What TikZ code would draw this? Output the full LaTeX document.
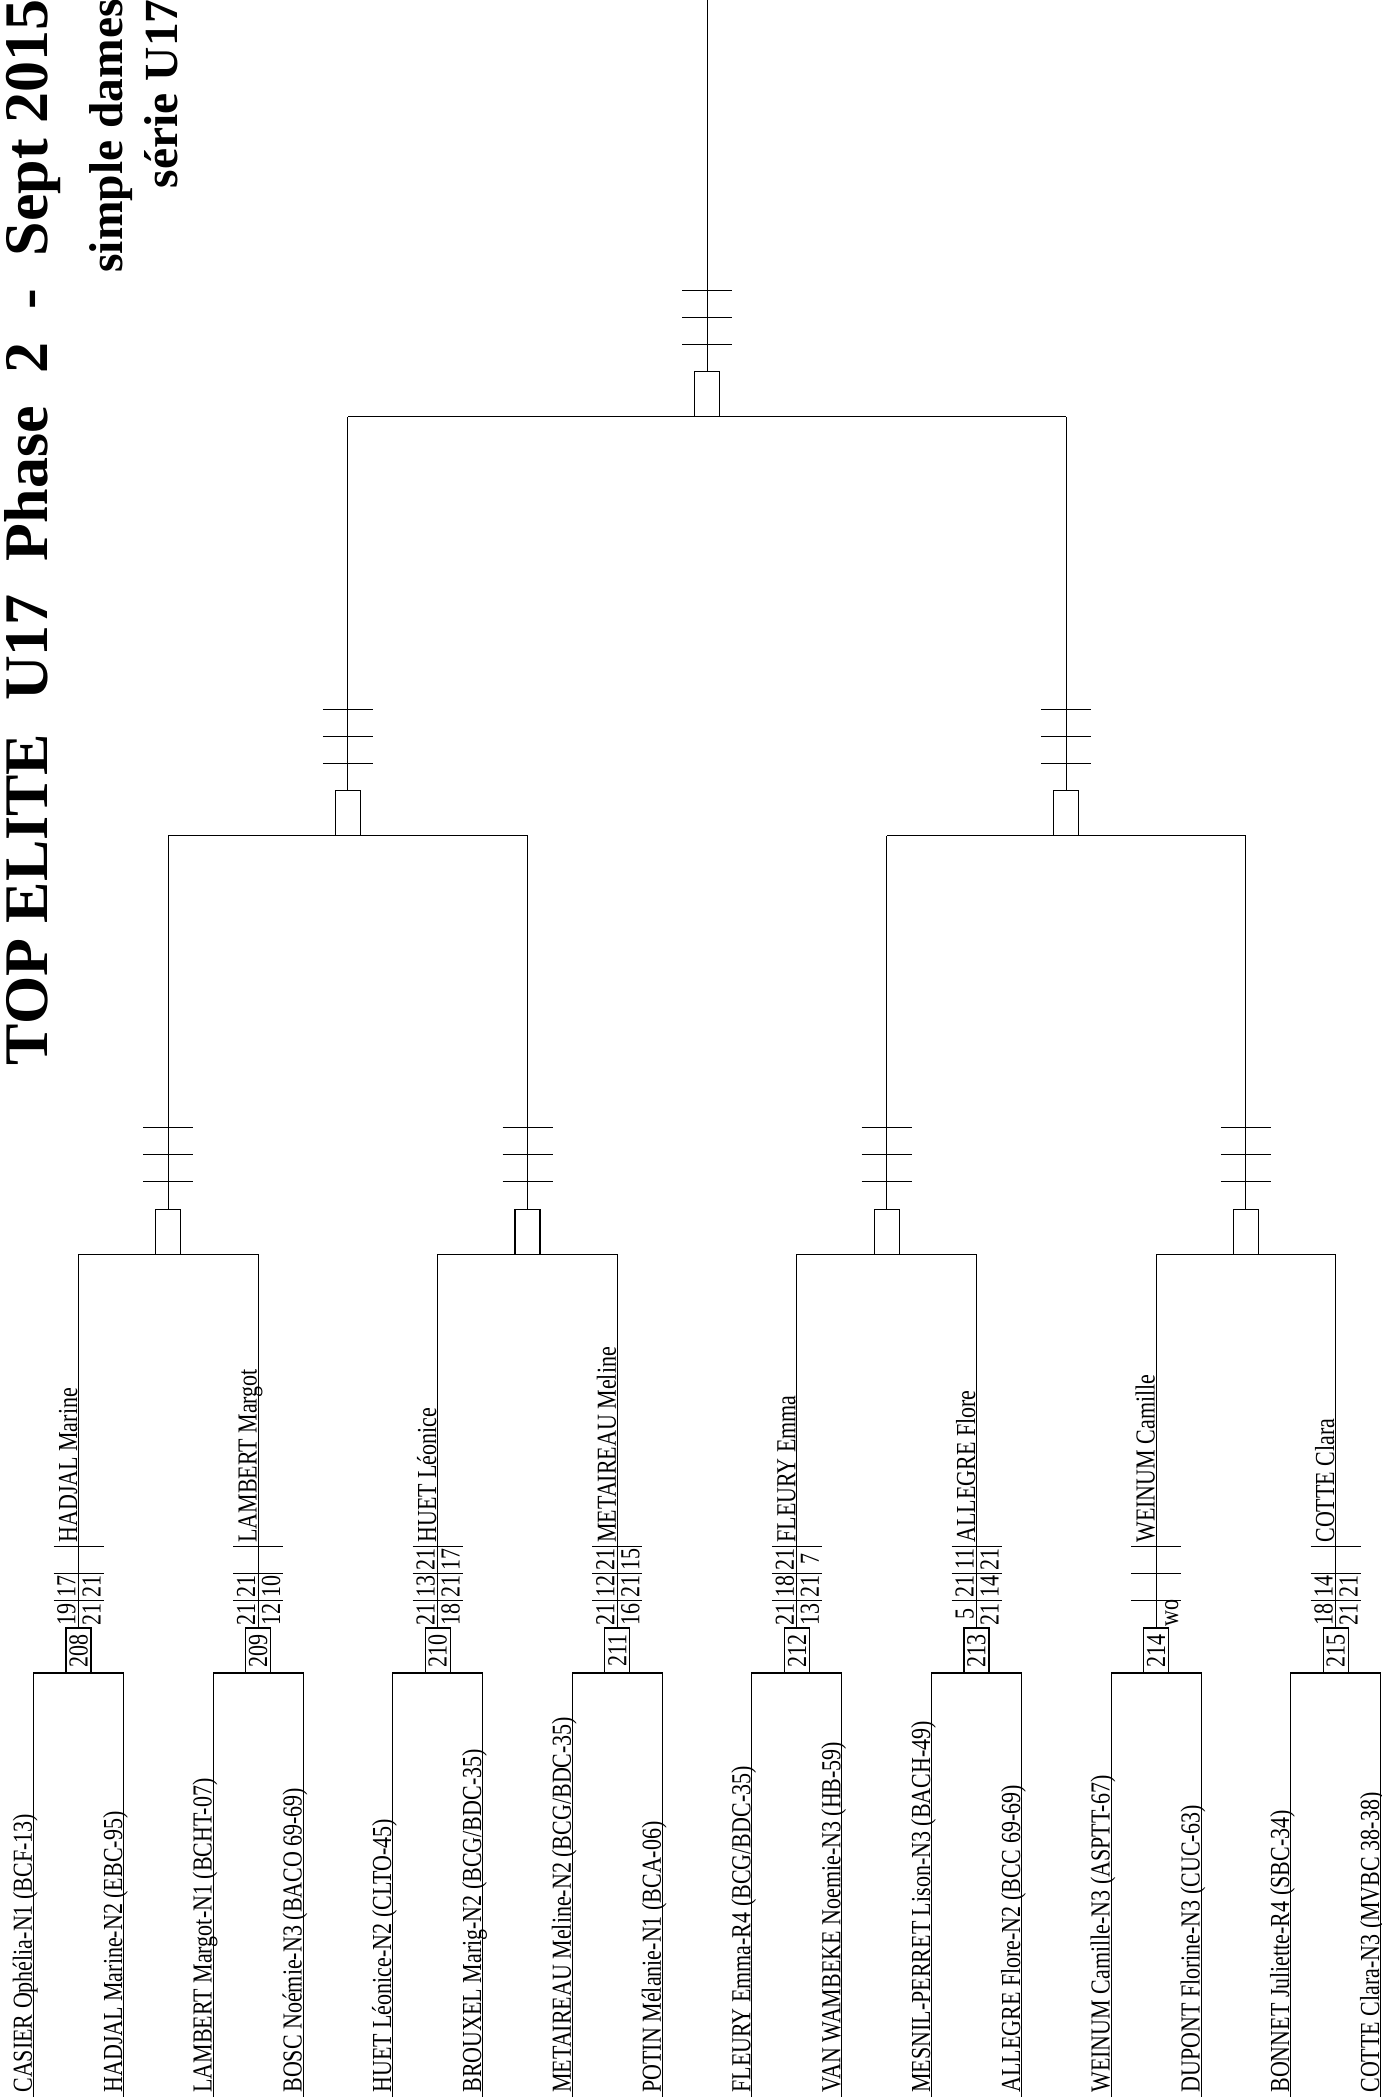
\documentclass[tikz,border=0pt]{standalone}
\usepackage{fontspec}
\setmainfont{Liberation Serif}
\newfontfamily\cond[FakeStretch=0.8]{Liberation Serif}
\tikzset{
  ln/.style={line width=0.55pt, draw=black},
  mbox/.style={draw=black, line width=0.55pt, fill=white, rotate=90, minimum width=22.5pt, minimum height=12.5pt, inner sep=0pt,
    font=\cond\fontsize{13.75pt}{16pt}\selectfont},
  txt/.style={rotate=90, inner sep=0pt, font=\cond\fontsize{13.75pt}{16pt}\selectfont},
  ttl/.style={rotate=90, inner sep=0pt, anchor=base east, font=\bfseries\fontsize{31pt}{36pt}\selectfont},
  subt/.style={rotate=90, inner sep=0pt, anchor=base east, font=\bfseries\fontsize{23.75pt}{28pt}\selectfont},
}
% ticks: #1 centre x, #2 box top y
\newcommand\tickset[2]{%
  \foreach \t in {27.5,54.5,81.5} \draw[ln] (#1-25,#2-\t) -- (#1+25,#2-\t);%
}
% first-round match: #1 index, #2 number, #3 player 1, #4 player 2, #5 winner
\newcommand\firstround[5]{%
  \pgfmathsetmacro\cx{78.5+179.6*#1}%
  \pgfmathsetmacro\lx{\cx-45}%
  \pgfmathsetmacro\rx{\cx+45}%
  \coordinate (a#2) at (\lx,2097);
  \coordinate (b#2) at (\rx,2097);
  \coordinate (w#2) at (\cx,1254.3);
  \draw[ln] (a#2) -- (\lx,1673) -- (\rx,1673) -- (b#2);
  \node[mbox] (m#2) at (\cx,1650.5) {#2};
  \draw[ln] (m#2.east) -- (w#2);
  \tickset{\cx}{1628}
  \node[txt, anchor=base west] (pa#2) at (\lx-1.5,2093) {#3};
  \node[txt, anchor=base west] (pb#2) at (\rx-1.5,2093) {#4};
  \node[txt, anchor=base west] (win#2) at (\cx-1.5,1543) {#5};
}
% scores: #1 index, #2 game, #3 left score, #4 right score
\newcommand\scorepair[4]{%
  \pgfmathsetmacro\cx{78.5+179.6*#1}%
  \pgfmathsetmacro\cy{1628-27.5*(#2-0.5)}%
  \node[txt, anchor=base] (sl#1#2) at (\cx-3,\cy) {#3};
  \node[txt, anchor=base] (sr#1#2) at (\cx+22,\cy) {#4};
}
\begin{document}
\begin{tikzpicture}[x=0.5pt,y=-0.5pt]
\useasboundingbox (0,0) rectangle (1382,2100);
\fill[white] (0,0) rectangle (1382,2100);

% titles
\node[ttl] (title) at (47,-1) {TOP ELITE\hspace{0.53em}U17\hspace{0.53em}Phase\hspace{0.53em}2\hspace{0.53em}-\hspace{0.53em}Sept 2015};
\node[subt] (sub1) at (122,-1) {simple dames};
\node[subt] (sub2) at (177,-1) {série U17};

% first round
\firstround{0}{208}{CASIER Ophélia-N1 (BCF-13)}{HADJAL Marine-N2 (EBC-95)}{HADJAL Marine}
\firstround{1}{209}{LAMBERT Margot-N1 (BCHT-07)}{BOSC Noémie-N3 (BACO 69-69)}{LAMBERT Margot}
\firstround{2}{210}{HUET Léonice-N2 (CLTO-45)}{BROUXEL Marig-N2 (BCG/BDC-35)}{HUET Léonice}
\firstround{3}{211}{METAIREAU Meline-N2 (BCG/BDC-35)}{POTIN Mélanie-N1 (BCA-06)}{METAIREAU Meline}
\firstround{4}{212}{FLEURY Emma-R4 (BCG/BDC-35)}{VAN WAMBEKE Noemie-N3 (HB-59)}{FLEURY Emma}
\firstround{5}{213}{MESNIL-PERRET Lison-N3 (BACH-49)}{ALLEGRE Flore-N2 (BCC 69-69)}{ALLEGRE Flore}
\firstround{6}{214}{WEINUM Camille-N3 (ASPTT-67)}{DUPONT Florine-N3 (CUC-63)}{WEINUM Camille}
\firstround{7}{215}{BONNET Juliette-R4 (SBC-34)}{COTTE Clara-N3 (MVBC 38-38)}{COTTE Clara}

% scores
\scorepair{0}{1}{19}{21}\scorepair{0}{2}{17}{21}
\scorepair{1}{1}{21}{12}\scorepair{1}{2}{21}{10}
\scorepair{2}{1}{21}{18}\scorepair{2}{2}{13}{21}\scorepair{2}{3}{21}{17}
\scorepair{3}{1}{21}{16}\scorepair{3}{2}{12}{21}\scorepair{3}{3}{21}{15}
\scorepair{4}{1}{21}{13}\scorepair{4}{2}{18}{21}\scorepair{4}{3}{21}{7}
\scorepair{5}{1}{5}{21}\scorepair{5}{2}{21}{14}\scorepair{5}{3}{11}{21}
\scorepair{7}{1}{18}{21}\scorepair{7}{2}{14}{21}
\node[txt, anchor=base west] (wo214) at (78.5+179.6*6+22,1627) {wo};

% second round
\draw[ln] (w208) -- (w209);
\draw[ln] (w210) -- (w211);
\draw[ln] (w212) -- (w213);
\draw[ln] (w214) -- (w215);
\foreach \j in {0,1,2,3}{
  \pgfmathsetmacro\dx{168.3+359.2*\j}
  \node[mbox] (q\j) at (\dx,1231.8) {};
  \coordinate (v\j) at (\dx,835.6);
  \draw[ln] (q\j.east) -- (v\j);
  \tickset{\dx}{1209.3}
}
% third round
\draw[ln] (v0) -- (v1);
\draw[ln] (v2) -- (v3);
\foreach \j in {0,1}{
  \pgfmathsetmacro\ex{347.9+718.4*\j}
  \node[mbox] (r\j) at (\ex,813.1) {};
  \coordinate (u\j) at (\ex,416.9);
  \draw[ln] (r\j.east) -- (u\j);
  \tickset{\ex}{790.6}
}
% final
\draw[ln] (u0) -- (u1);
\node[mbox] (fin) at (707.1,394.4) {};
\coordinate (topend) at (707.1,-3);
\draw[ln] (fin.east) -- (topend);
\tickset{707.1}{371.9}
\end{tikzpicture}
\end{document}
